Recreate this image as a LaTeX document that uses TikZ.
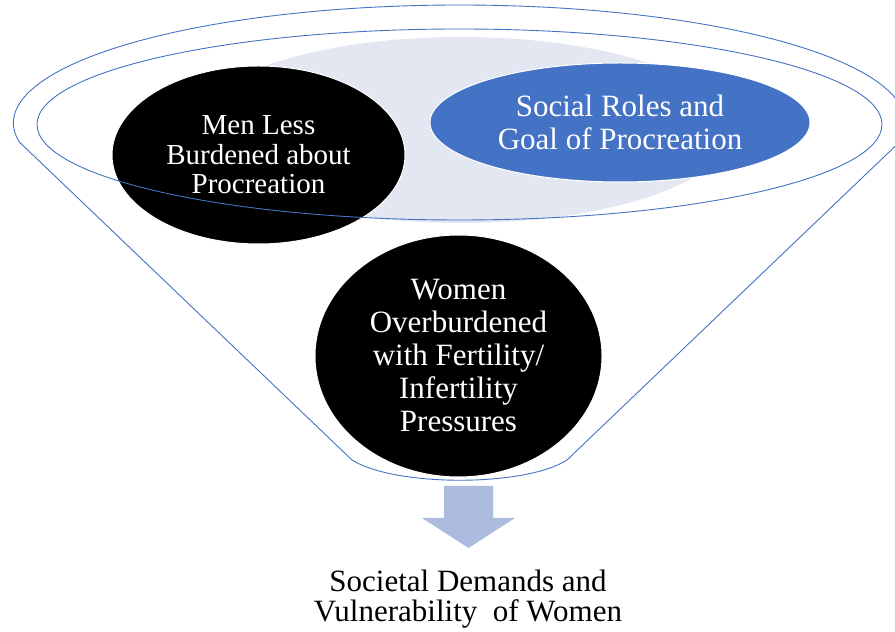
\documentclass[tikz,border=0pt]{standalone}
\usepackage{fontspec}
\setmainfont{Liberation Serif}
\usepackage{xcolor}
\usetikzlibrary{shapes.geometric}
\definecolor{funnelblue}{HTML}{4472C4}
\definecolor{backfill}{HTML}{E3E7F2}
\definecolor{arrowblue}{HTML}{ADBBDE}

\begin{document}
\begin{tikzpicture}[x=1pt,y=1pt,
    funnel/.style={draw=funnelblue,line width=0.9pt},
    bubble/.style={ellipse,inner sep=0pt,draw=white,line width=1pt,text=white,align=center}]
    \useasboundingbox (0,0) rectangle (895,632);

    % Funnel outline
    \draw[funnel] (19.3,490) arc[start angle=189.27,end angle=-9.27,x radius=446,y radius=118]
        -- (567,172) .. controls (525,145) and (395,145) .. (352,172) -- cycle;

    % Bubbles in the funnel
    \node[ellipse,fill=backfill,minimum width=540pt,minimum height=186pt] (back) at (461,502) {};
    \node[bubble,fill=black,minimum width=293pt,minimum height=178pt,
        font=\rmfamily\fontsize{29}{29.5}\selectfont] (men) at (258.5,477)
        {Men Less\\Burdened about\\Procreation};
    \node[bubble,fill=funnelblue,minimum width=380pt,minimum height=119pt,
        font=\rmfamily\fontsize{31}{33}\selectfont] (roles) at (620,509.5)
        {Social Roles and\\Goal of Procreation};
    \node[ellipse,funnel,minimum width=845pt,minimum height=191pt] (rim) at (459.5,507.5) {};
    \node[bubble,fill=black,minimum width=287pt,minimum height=242pt,
        font=\rmfamily\fontsize{31}{33}\selectfont] (women) at (458.5,276)
        {Women\\Overburdened\\with Fertility/\\Infertility\\Pressures};

    % Outcome arrow
    \fill[arrowblue] (444,146) -- (493,146) -- (493,114) -- (515,114) -- (468.5,84)
        -- (422,114) -- (444,114) -- cycle;
    \node[align=center,font=\rmfamily\fontsize{31}{30}\selectfont] (demands) at (468,33)
        {Societal Demands and\\Vulnerability\ \ of Women};
\end{tikzpicture}
\end{document}
